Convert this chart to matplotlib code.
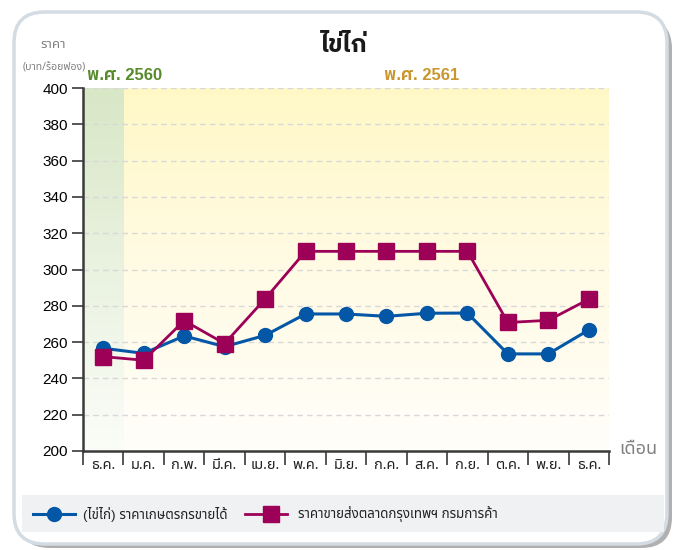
import matplotlib
matplotlib.use("Agg")
import matplotlib.pyplot as plt
import numpy as np
from matplotlib.colors import LinearSegmentedColormap
from matplotlib.lines import Line2D
from matplotlib.patches import FancyBboxPatch, Rectangle

# --- data ---
months = ["ธ.ค.", "ม.ค.", "ก.พ.", "มี.ค.", "เม.ย.", "พ.ค.", "มิ.ย.",
          "ก.ค.", "ส.ค.", "ก.ย.", "ต.ค.", "พ.ย.", "ธ.ค."]
farm_price = [256.6, 253.8, 263.4, 257.5, 263.7, 275.5, 275.5,
              274.2, 275.9, 276.0, 253.5, 253.5, 266.7]
wholesale_price = [252.0, 250.0, 271.8, 259.2, 283.8, 310.0, 310.0,
                   310.0, 310.0, 310.0, 270.8, 272.0, 283.6]
farm_label = "(ไข่ไก่) ราคาเกษตรกรขายได้"
wholesale_label = "ราคาขายส่งตลาดกรุงเทพฯ กรมการค้า"
title = "ไข่ไก่"
year_labels = ["พ.ศ. 2560", "พ.ศ. 2561"]

BLUE = "#0457a6"
RED = "#9c0057"
THAI = ["Noto Sans Thai", "Liberation Sans", "DejaVu Sans"]
MIXED = ["Liberation Sans", "Noto Sans Thai", "DejaVu Sans"]
# static bold cut for the bold Thai texts
THAI_BOLD = ["IBM Plex Sans Thai", "Noto Sans Thai", "Liberation Sans", "DejaVu Sans"]
MIXED_BOLD = ["Liberation Sans", "IBM Plex Sans Thai", "Noto Sans Thai", "DejaVu Sans"]

W, H = 682, 550
fig = plt.figure(figsize=(W / 100, H / 100), dpi=100)
fig.patch.set_facecolor("white")

# card with shadow
fig.patches.append(FancyBboxPatch((19 / W, 1 - 548 / H), 653 / W, 530 / H,
                                  boxstyle="round,pad=0,rounding_size=0.045",
                                  transform=fig.transFigure, facecolor="#6f6f6f",
                                  edgecolor="none", alpha=0.55, zorder=0,
                                  mutation_aspect=W / H))
fig.patches.append(FancyBboxPatch((14 / W, 1 - 544 / H), 653 / W, 532 / H,
                                  boxstyle="round,pad=0,rounding_size=0.045",
                                  transform=fig.transFigure, facecolor="white",
                                  edgecolor="#d3dbe3", linewidth=2.5, zorder=1,
                                  mutation_aspect=W / H))

# legend strip
fig.patches.append(Rectangle((22 / W, 1 - 532 / H), 642 / W, 37 / H,
                             transform=fig.transFigure, facecolor="#f0f1f3",
                             edgecolor="none", zorder=2))

ax = fig.add_axes([83 / W, 1 - 451 / H, 526 / W, 363 / H])
ax.set_zorder(3)
ax.patch.set_alpha(0)

x = np.arange(len(months))

# background gradients
grad = np.linspace(1, 0, 256).reshape(-1, 1)
green_cmap = LinearSegmentedColormap.from_list("g", ["#fbfdf8", "#eaf2e0", "#d8e7c6"])
yellow_cmap = LinearSegmentedColormap.from_list("y", ["#fffefa", "#fffbe4", "#fff8c6"])
ax.imshow(grad, cmap=yellow_cmap, aspect="auto", extent=(0.5, len(months) - 0.5, 200, 400),
          zorder=0, interpolation="bilinear")
ax.imshow(grad, cmap=green_cmap, aspect="auto", extent=(-0.5, 0.5, 200, 400),
          zorder=0, interpolation="bilinear")
ax.set_xlim(-0.5, len(months) - 0.5)
ax.set_ylim(200, 400)

yticks = np.arange(200, 401, 20)
for yv in yticks[1:]:
    ax.axhline(yv, color="#d8d8d8", linestyle=(0, (4, 3)), linewidth=1, zorder=1)

ax.plot(x, farm_price, color=BLUE, linewidth=2.2, marker="o", markersize=10,
        zorder=4, clip_on=False)
ax.plot(x, wholesale_price, color=RED, linewidth=2.0, marker="s", markersize=12,
        zorder=5, clip_on=False)

for side in ["top", "right"]:
    ax.spines[side].set_visible(False)
for side in ["left", "bottom"]:
    ax.spines[side].set_color("#3a3a3a")
    ax.spines[side].set_linewidth(1.8)

ax.set_yticks(yticks)
ax.set_yticklabels([str(v) for v in yticks], fontfamily=MIXED, fontsize=11)
ax.tick_params(axis="y", length=8, width=1.2, color="#3a3a3a", pad=3)

ax.set_xticks(x)
ax.set_xticklabels(months, fontfamily=THAI, fontsize=10.5, color="#222222")
ax.set_xticks(np.arange(-0.5, len(months)), minor=True)
ax.tick_params(axis="x", which="major", length=0, pad=5)
ax.tick_params(axis="x", which="minor", length=10, width=1.2, color="#3a3a3a")

# texts
fig.text(344 / W, 1 - 45 / H, title, ha="center", va="center", fontsize=18,
         fontweight="bold", fontfamily=THAI_BOLD, color="#1a1a1a")
fig.text(53 / W, 1 - 45 / H, "ราคา", ha="center", va="center", fontsize=9.5,
         fontfamily=THAI, color="#808080")
fig.text(54 / W, 1 - 68 / H, "(บาท/ร้อยฟอง)", ha="center", va="center", fontsize=7.5,
         fontfamily=THAI, color="#808080")
fig.text(87 / W, 1 - 75 / H, year_labels[0], ha="left", va="center", fontsize=12,
         fontweight="bold", fontfamily=MIXED_BOLD, color="#568a2b")
fig.text(422 / W, 1 - 75 / H, year_labels[1], ha="center", va="center", fontsize=12,
         fontweight="bold", fontfamily=MIXED_BOLD, color="#c9962e")
fig.text(638 / W, 1 - 449 / H, "เดือน", ha="center", va="center", fontsize=13,
         fontfamily=THAI, color="#808080")

# legend
lx = fig.transFigure
ly = 1 - 514 / H
fig.add_artist(Line2D([33 / W, 75 / W], [ly, ly], color=BLUE, linewidth=2.2,
                      transform=lx, zorder=4))
fig.add_artist(Line2D([54 / W], [ly], color=BLUE, marker="o", markersize=10,
                      transform=lx, zorder=5))
fig.text(83 / W, ly, farm_label, ha="left", va="center", fontsize=9.6,
         fontfamily=MIXED, color="#222222", zorder=5)
fig.add_artist(Line2D([245 / W, 287 / W], [ly, ly], color=RED, linewidth=2.0,
                      transform=lx, zorder=4))
fig.add_artist(Line2D([271 / W], [ly], color=RED, marker="s", markersize=12,
                      transform=lx, zorder=5))
fig.text(298 / W, ly, wholesale_label, ha="left", va="center", fontsize=9.6,
         fontfamily=THAI, color="#222222", zorder=5)

fig.savefig("out.png", dpi=100)
